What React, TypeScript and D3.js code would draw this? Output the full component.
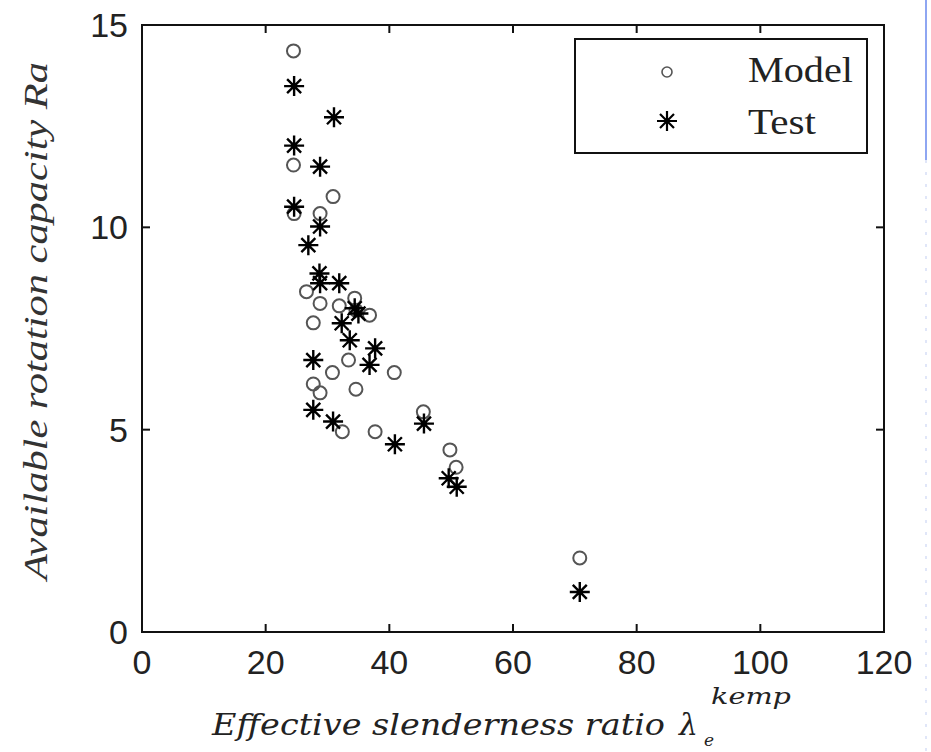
import React from "react";
import * as d3 from "d3";

// Model (circles) and Test (stars): effective slenderness ratio vs rotation capacity
const modelX = [24.5, 24.5, 30.9, 24.6, 28.8, 26.6, 28.8, 31.9, 34.4, 34.6, 36.8, 27.7, 33.4, 30.8, 40.8, 27.7, 28.8, 34.6, 45.5, 32.4, 37.7, 49.8, 50.8, 70.8];
const modelY = [14.36, 11.54, 10.76, 10.34, 10.34, 8.41, 8.12, 8.06, 8.25, 7.95, 7.83, 7.64, 6.72, 6.41, 6.41, 6.13, 5.91, 6.0, 5.44, 4.95, 4.95, 4.5, 4.07, 1.83];

const testX = [24.6, 31.05, 24.6, 28.8, 24.6, 28.8, 26.9, 28.7, 28.8, 31.9, 34.4, 35.0, 32.3, 33.6, 37.7, 27.7, 36.8, 27.7, 30.9, 45.6, 40.9, 49.6, 50.9, 70.8];
const testY = [13.49, 12.72, 12.02, 11.5, 10.51, 10.02, 9.56, 8.86, 8.62, 8.62, 8.0, 7.87, 7.63, 7.21, 7.01, 6.72, 6.6, 5.49, 5.2, 5.15, 4.64, 3.8, 3.59, 0.99];

const xTicks = [0, 20, 40, 60, 80, 100, 120];
const yTicks = [0, 5, 10, 15];

const W = 931;
const H = 752;
const plot = { left: 142, right: 884, top: 25, bottom: 632 };

const starPath = (cx: number, cy: number, s: number) => {
  const d = s * 0.7;
  return `M${cx - s},${cy}H${cx + s}M${cx},${cy - s}V${cy + s}` +
    `M${cx - d},${cy - d}L${cx + d},${cy + d}M${cx - d},${cy + d}L${cx + d},${cy - d}`;
};

export default function App() {
  const x = d3.scaleLinear().domain([0, 120]).range([plot.left, plot.right]);
  const y = d3.scaleLinear().domain([0, 15]).range([plot.bottom, plot.top]);
  const tick = 8;

  return (
    <svg width={W} height={H} style={{ position: "absolute", left: 0, top: 0, background: "#fff" }}>
      {/* screenshot edge line */}
      <line x1={926} y1={0} x2={926} y2={160} stroke="#8ea6f2" strokeWidth={2} />
      <line x1={926} y1={160} x2={926} y2={752} stroke="#d6def6" strokeWidth={1.5} strokeDasharray="3 9" />

      {/* axes box */}
      <rect x={plot.left} y={plot.top} width={plot.right - plot.left} height={plot.bottom - plot.top}
        fill="none" stroke="#111" strokeWidth={2} />
      {xTicks.map((t) => (
        <g key={"xt" + t}>
          <line x1={x(t)} x2={x(t)} y1={plot.bottom} y2={plot.bottom - tick} stroke="#111" strokeWidth={2} />
          <line x1={x(t)} x2={x(t)} y1={plot.top} y2={plot.top + tick} stroke="#111" strokeWidth={2} />
          <text x={x(t)} y={plot.bottom + 42} textAnchor="middle" fontFamily="Liberation Sans, Arial, sans-serif"
            fontSize={34} fill="#222">{t}</text>
        </g>
      ))}
      {yTicks.map((t) => (
        <g key={"yt" + t}>
          <line x1={plot.left} x2={plot.left + tick} y1={y(t)} y2={y(t)} stroke="#111" strokeWidth={2} />
          <line x1={plot.right} x2={plot.right - tick} y1={y(t)} y2={y(t)} stroke="#111" strokeWidth={2} />
          <text x={128} y={y(t) + 12} textAnchor="end" fontFamily="Liberation Sans, Arial, sans-serif"
            fontSize={34} fill="#222">{t}</text>
        </g>
      ))}

      {/* model circles */}
      {modelX.map((v, i) => (
        <circle key={"m" + i} cx={x(v)} cy={y(modelY[i])} r={6.5} fill="none" stroke="#555" strokeWidth={2} />
      ))}
      {/* test stars */}
      {testX.map((v, i) => (
        <path key={"t" + i} d={starPath(x(v), y(testY[i]), 10)} stroke="#000" strokeWidth={2.4} fill="none" />
      ))}

      {/* legend */}
      <rect x={575} y={39} width={292} height={114} fill="#fff" stroke="#111" strokeWidth={2} />
      <circle cx={667} cy={72} r={5} fill="none" stroke="#555" strokeWidth={1.6} />
      <path d={starPath(667, 121, 10)} stroke="#000" strokeWidth={2.2} fill="none" />
      <text x={748} y={82} fontFamily="Liberation Serif, Times New Roman, serif" fontSize={35} fill="#222"
        textLength={105} lengthAdjust="spacingAndGlyphs">Model</text>
      <text x={748} y={134} fontFamily="Liberation Serif, Times New Roman, serif" fontSize={35} fill="#222"
        textLength={68} lengthAdjust="spacingAndGlyphs">Test</text>

      {/* y label */}
      <text transform="translate(47,321) rotate(-90)" textAnchor="middle"
        fontFamily="Liberation Serif, Times New Roman, serif" fontStyle="italic" fontSize={34} fill="#333"
        textLength={518} lengthAdjust="spacingAndGlyphs">Available rotation capacity  Ra</text>

      {/* x label */}
      <text x={212} y={735} fontFamily="DejaVu Serif, serif" fontStyle="italic" fontSize={30} fill="#222"
        textLength={453} lengthAdjust="spacingAndGlyphs">Effective slenderness ratio</text>
      <text x={679} y={735} fontFamily="DejaVu Serif, serif" fontStyle="italic" fontSize={30} fill="#222">λ</text>
      <text x={704} y={746} fontFamily="DejaVu Serif, serif" fontStyle="italic" fontSize={17} fill="#222">e</text>
      <text x={711} y={704} fontFamily="DejaVu Serif, serif" fontStyle="italic" fontSize={22} fill="#222"
        textLength={80} lengthAdjust="spacingAndGlyphs">kemp</text>
    </svg>
  );
}
